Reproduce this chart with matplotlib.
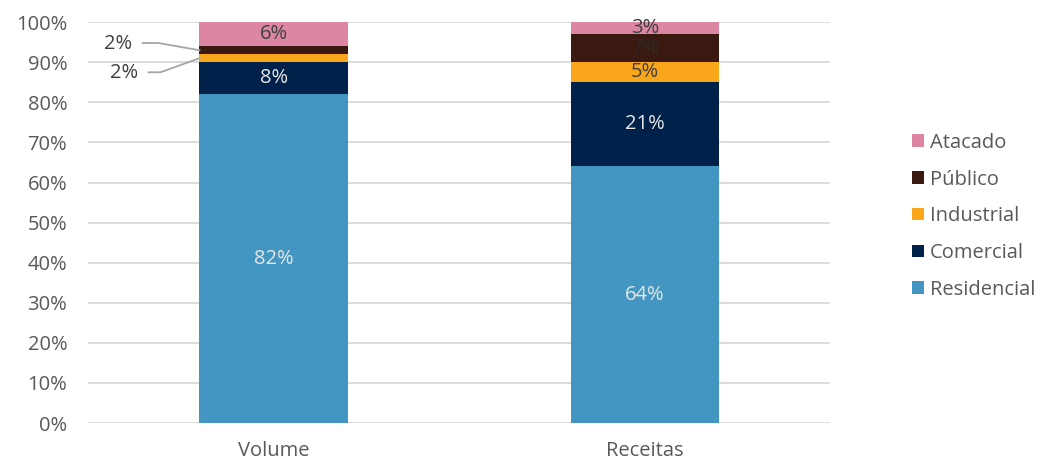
import matplotlib
matplotlib.use("Agg")
import matplotlib.pyplot as plt
import numpy as np

plt.rcParams['font.family'] = ['Open Sans', 'DejaVu Sans']

categories = ["Volume", "Receitas"]
series = ["Residencial", "Comercial", "Industrial", "Público", "Atacado"]
residencial = [82, 64]
comercial = [8, 21]
industrial = [2, 5]
publico = [2, 7]
atacado = [6, 3]
values = [residencial, comercial, industrial, publico, atacado]
colors = ["#4396C1", "#00214A", "#FAA61A", "#3A1A10", "#DD86A2"]
label_colors = ["#E6E6E6", "#E6E6E6", "#404040", "#2E2A28", "#404040"]

FS = 14.5
fig = plt.figure(figsize=(10.42, 4.62), dpi=100)
ax = fig.add_axes([0.0845, 0.0844, 0.7125, 0.8676])

x = np.arange(len(categories))
width = 0.4
bottom = np.zeros(len(categories))
bars = []
for name, vals, c, lc in zip(series, values, colors, label_colors):
    b = ax.bar(x, vals, width, bottom=bottom, color=c, label=name, zorder=2)
    bars.append(b)
    for i, v in enumerate(vals):
        mid = bottom[i] + v / 2
        if i == 0 and name in ("Industrial", "Público"):
            continue
        ax.text(x[i], mid, f"{v}%", ha="center", va="center", color=lc, fontsize=FS, zorder=3)
    bottom += np.array(vals)

# leader labels for small Volume segments
grey = "#A6A6A6"
vol_ind_mid = residencial[0] + comercial[0] + industrial[0] / 2
vol_pub_mid = residencial[0] + comercial[0] + industrial[0] + publico[0] / 2
edge = x[0] - width / 2
ax.plot([-0.353, -0.31, edge], [94.8, 94.8, vol_pub_mid], color=grey, lw=1.3, zorder=3, clip_on=False)
ax.text(-0.418, 94.6, f"{publico[0]}%", ha="center", va="center", color="#404040", fontsize=FS)
ax.plot([-0.337, -0.305, edge], [87.5, 87.5, vol_ind_mid], color=grey, lw=1.3, zorder=3, clip_on=False)
ax.text(-0.404, 87.3, f"{industrial[0]}%", ha="center", va="center", color="#404040", fontsize=FS)

ax.set_xlim(-0.5, 1.5)
ax.set_ylim(0, 100)
ax.set_yticks(np.arange(0, 101, 10))
ax.set_yticklabels([f"{t}%" for t in range(0, 101, 10)])
ax.set_xticks(x)
ax.set_xticklabels(categories)
ax.yaxis.grid(True, color="#D9D9D9", lw=1.3, zorder=0)
ax.set_axisbelow(True)
for s in ax.spines.values():
    s.set_visible(False)
ax.tick_params(axis="both", length=0, labelsize=FS, colors="#595959")
ax.tick_params(axis="y", pad=15)
ax.tick_params(axis="x", pad=13)

handles = bars[::-1]
leg = fig.legend(handles, series[::-1], loc="center left", bbox_to_anchor=(0.858, 0.532),
                 frameon=False, fontsize=FS, handlelength=0.58, handleheight=0.58,
                 handletextpad=0.3, labelspacing=0.83)
for t in leg.get_texts():
    t.set_color("#595959")

fig.savefig("out.png", dpi=100)
